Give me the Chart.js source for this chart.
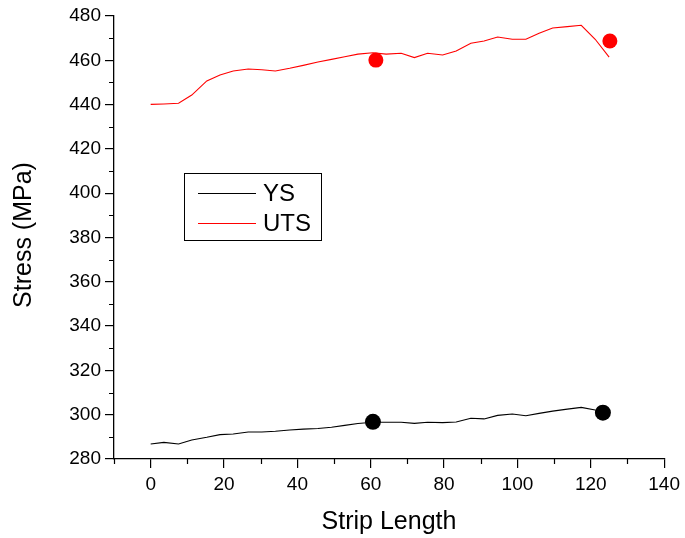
<!DOCTYPE html>
<html>
<head>
<meta charset="utf-8">
<script src="https://cdn.jsdelivr.net/npm/chart.js@4/dist/chart.umd.min.js"></script>
<style>
  body { margin: 0; background: #fff; }
  #wrap { width: 685px; height: 538px; }
</style>
</head>
<body>
<div id="wrap"><canvas id="chart" width="685" height="538"></canvas></div>
<script>
// strip positions and stress readings
const stripLength = [0, 3.6, 7.6, 11.2, 15.3, 18.9, 22.5, 26.6, 30.3, 34.0, 37.9, 41.6, 45.6, 49.3, 52.9, 56.5,
  60.6, 64.2, 68.3, 71.9, 75.5, 79.6, 83.3, 87.3, 90.9, 94.6, 98.6, 102.3, 105.9, 109.6, 113.6, 117.4, 121.2, 125.0];
const utsValues = [440.1, 440.3, 440.6, 444.3, 450.7, 453.4, 455.2, 456.1, 455.7, 455.2, 456.4, 457.7, 459.2, 460.4, 461.6, 462.8,
  463.4, 462.8, 463.2, 461.2, 463.2, 462.4, 464.2, 467.7, 468.7, 470.5, 469.5, 469.5, 472.2, 474.6, 475.2, 475.8, 469.5, 461.4];
const ysValues = [286.8, 287.5, 286.8, 288.6, 289.8, 291.0, 291.3, 292.2, 292.2, 292.5, 293.1, 293.5, 293.8, 294.3, 295.2, 296.0,
  296.6, 296.6, 296.6, 296.1, 296.6, 296.4, 296.7, 298.4, 298.1, 299.7, 300.3, 299.5, 300.6, 301.6, 302.5, 303.3, 302.1, null];

// measured single points
const utsPointX = [61.4, 125.2];
const utsPointY = [460.1, 468.7];
const ysPointX = [60.6, 123.3];
const ysPointY = [296.8, 300.9];

const xTicks = [0, 20, 40, 60, 80, 100, 120, 140];
const yTicks = [280, 300, 320, 340, 360, 380, 400, 420, 440, 460, 480];
const seriesNames = ['YS', 'UTS'];

const toPoints = (xs, ys) => xs.map((x, i) => ({ x: x, y: ys[i] }));

const FONT = '"Liberation Sans", Arial, sans-serif';

// minor ticks, axis titles and the boxed legend
const extras = {
  id: 'extras',
  afterDraw(chart) {
    const ctx = chart.ctx;
    const xs = chart.scales.x, ys = chart.scales.y;
    const area = chart.chartArea;
    ctx.save();
    ctx.strokeStyle = '#000';
    ctx.lineWidth = 1.2;
    ctx.beginPath();
    for (let v = -10; v <= 140; v += 20) {
      const px = Math.round(xs.getPixelForValue(v)) + 0.5;
      ctx.moveTo(px, area.bottom);
      ctx.lineTo(px, area.bottom + 5);
    }
    for (let v = 290; v < 480; v += 20) {
      const py = Math.round(ys.getPixelForValue(v)) + 0.5;
      ctx.moveTo(area.left, py);
      ctx.lineTo(area.left - 5, py);
    }
    ctx.stroke();

    // axis titles
    ctx.fillStyle = '#000';
    ctx.font = '25px ' + FONT;
    ctx.textAlign = 'center';
    ctx.textBaseline = 'middle';
    ctx.fillText('Strip Length', 389, 522);
    ctx.translate(24, 235);
    ctx.rotate(-Math.PI / 2);
    ctx.fillText('Stress (MPa)', 0, 0);
    ctx.restore();

    // legend box
    ctx.save();
    const bx = area.left + 70, by = area.top + 157;
    ctx.strokeStyle = '#000';
    ctx.lineWidth = 1;
    ctx.strokeRect(bx + 0.5, by + 0.5, 137, 67);
    const colors = ['#000', '#ff0000'];
    ctx.font = '24px ' + FONT;
    ctx.textAlign = 'left';
    ctx.textBaseline = 'middle';
    seriesNames.forEach((name, i) => {
      const ly = by + 20 + i * 30;
      ctx.strokeStyle = colors[i];
      ctx.beginPath();
      ctx.moveTo(bx + 14, ly + 0.5);
      ctx.lineTo(bx + 72, ly + 0.5);
      ctx.stroke();
      ctx.fillStyle = '#000';
      ctx.fillText(name, bx + 79, ly + 1);
    });
    ctx.restore();
  }
};

new Chart(document.getElementById('chart'), {
  type: 'scatter',
  data: {
    datasets: [
      {
        label: seriesNames[0],
        data: toPoints(stripLength, ysValues),
        showLine: true,
        borderColor: '#000',
        borderWidth: 1.1,
        pointRadius: 0,
        spanGaps: false
      },
      {
        label: seriesNames[1],
        data: toPoints(stripLength, utsValues),
        showLine: true,
        borderColor: '#ff0000',
        borderWidth: 1.1,
        pointRadius: 0
      },
      {
        label: 'YS points',
        data: toPoints(ysPointX, ysPointY),
        showLine: false,
        pointRadius: 8,
        pointBackgroundColor: '#000',
        pointBorderWidth: 0
      },
      {
        label: 'UTS points',
        data: toPoints(utsPointX, utsPointY),
        showLine: false,
        pointRadius: 7.5,
        pointBackgroundColor: '#ff0000',
        pointBorderWidth: 0
      }
    ]
  },
  options: {
    responsive: false,
    animation: false,
    layout: { padding: { left: 40, top: 16, right: 20, bottom: 0 } },
    plugins: { legend: { display: false }, tooltip: { enabled: false } },
    scales: {
      x: {
        type: 'linear',
        min: -10,
        max: 140,
        afterBuildTicks: (scale) => { scale.ticks = xTicks.map(v => ({ value: v })); },
        afterFit: (scale) => { scale.height = 79; },
        border: { display: true, color: '#000', width: 1.3 },
        grid: { drawOnChartArea: false, color: '#000', tickLength: 9, lineWidth: 1.2 },
        ticks: { color: '#000', font: { family: FONT, size: 19 }, padding: 5, maxRotation: 0 }
      },
      y: {
        type: 'linear',
        min: 280,
        max: 480,
        afterBuildTicks: (scale) => { scale.ticks = yTicks.map(v => ({ value: v })); },
        afterFit: (scale) => { scale.width = 74; },
        border: { display: true, color: '#000', width: 1.3 },
        grid: { drawOnChartArea: false, color: '#000', tickLength: 9, lineWidth: 1.2 },
        ticks: { color: '#000', font: { family: FONT, size: 19 }, padding: 4 }
      }
    }
  },
  plugins: [extras]
});
</script>
</body>
</html>
